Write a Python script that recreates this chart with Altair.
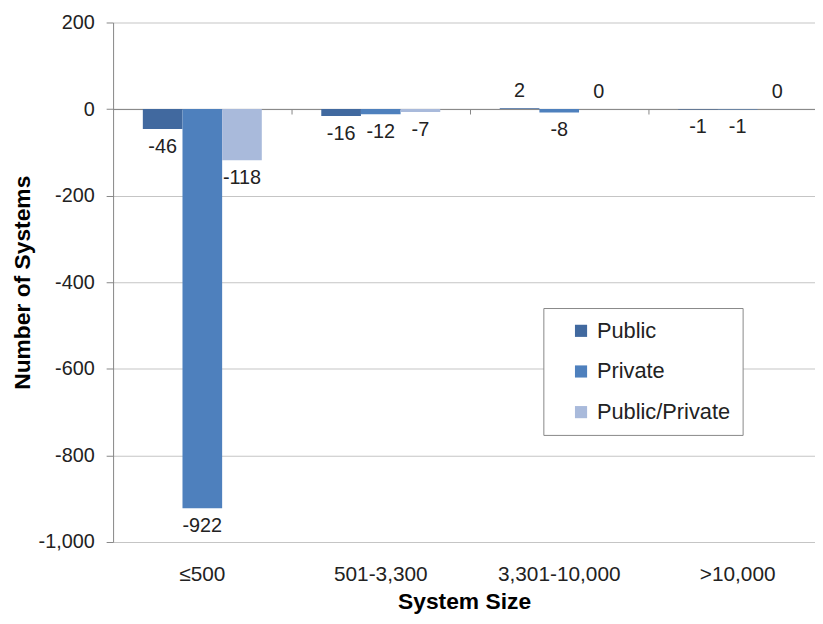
import altair as alt
import pandas as pd

categories = ["≤500", "501-3,300", "3,301-10,000", ">10,000"]
types = ["Public", "Private", "Public/Private"]
public = [-46, -16, 2, -1]
private = [-922, -12, -8, -1]
pubpriv = [-118, -7, 0, 0]
y_ticks = [-1000, -800, -600, -400, -200, 0, 200]
colors = ["#41699F", "#4E80BD", "#A9BADB"]

rows = []
for t, vals in zip(types, [public, private, pubpriv]):
    for c, v in zip(categories, vals):
        rows.append({"Size": c, "Type": t, "Value": v})
df = pd.DataFrame(rows)

FONT = "Liberation Sans"
xscale = alt.Scale(domain=categories, paddingInner=1/3, paddingOuter=0.13333, align=0.625)
xoff = alt.XOffset("Type:N", sort=types, scale=alt.Scale(domain=types, paddingInner=0, paddingOuter=0))
yscale = alt.Scale(domain=[-1000, 200], nice=False, zero=False)

base = alt.Chart(df).transform_calculate(lbl="'' + datum.Value")

bars = base.mark_bar().encode(
    x=alt.X("Size:N", sort=categories, scale=xscale,
            axis=alt.Axis(orient="bottom", labelAngle=0, domain=False, ticks=False, grid=False,
                          labelPadding=22, labelFontSize=21, labelFont=FONT, labelColor="#222",
                          title="System Size", titleFontSize=23, titleFont=FONT,
                          titleFontWeight="bold", titlePadding=6, titleColor="#000")),
    xOffset=xoff,
    y=alt.Y("Value:Q", scale=yscale,
            axis=alt.Axis(values=y_ticks, labelExpr="replace(format(datum.value, ','), '\u2212', '-')",
                          grid=True, gridColor="#c4c4c4", domainColor="#868686", tickColor="#868686",
                          tickSize=7, labelPadding=12, labelFontSize=20, labelFont=FONT,
                          labelColor="#222", title="Number of Systems", titleFontSize=23,
                          titleFont=FONT, titleFontWeight="bold", titlePadding=4, titleColor="#000")),
    color=alt.Color("Type:N", sort=types, scale=alt.Scale(domain=types, range=colors),
                    legend=alt.Legend(orient="none", legendX=434, legendY=288, title=None,
                                      strokeColor="#888", fillColor="white", padding=12,
                                      symbolOffset=15, symbolType="square", symbolSize=150,
                                      symbolStrokeWidth=0, labelFontSize=22, labelFont=FONT,
                                      labelColor="#222", rowPadding=19, labelOffset=5)),
)

neg = base.transform_filter("datum.Value < 0").mark_text(
    baseline="top", dy=8, fontSize=20, font=FONT, color="#222"
).encode(
    x=alt.X("Size:N", sort=categories, scale=xscale,
            axis=alt.Axis(orient="bottom", offset=-436.7, labels=False, title=None, grid=False,
                          domainColor="#868686", tickColor="#868686", tickSize=5,
                          tickOffset=90)),
    xOffset=xoff,
    y=alt.Y("Value:Q", scale=yscale),
    text="lbl:N",
)

pos = base.transform_filter("datum.Value >= 0").mark_text(
    baseline="bottom", dy=-7, fontSize=20, font=FONT, color="#222"
).encode(
    x=alt.X("Size:N", sort=categories, scale=xscale, axis=None),
    xOffset=xoff,
    y=alt.Y("Value:Q", scale=yscale),
    text="lbl:N",
)

chart = alt.layer(bars, neg, pos).resolve_axis(x="independent").properties(
    width=708, height=524,
    autosize=alt.AutoSizeParams(type="none"),
    padding={"left": 106, "top": 12, "right": 0, "bottom": 70},
    background="white",
).configure_view(strokeWidth=0)

chart.save("out.html", embed_options={"renderer": "svg", "actions": False})
